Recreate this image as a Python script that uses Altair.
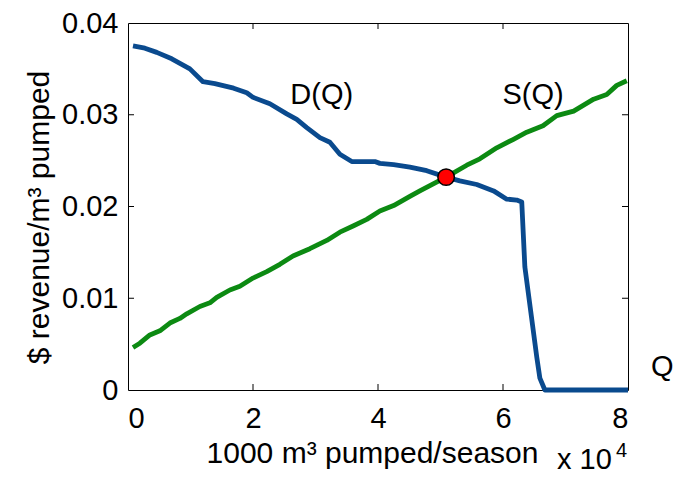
import altair as alt
import pandas as pd

# Demand curve D(Q)
D_Q = [0.08, 0.27, 0.46, 0.70, 0.99, 1.20, 1.39, 1.69, 1.90, 2.00, 2.27, 2.54, 2.70,
       2.86, 3.07, 3.23, 3.39, 3.58, 3.95, 4.03, 4.25, 4.51, 4.78, 5.09, 5.31, 5.58,
       5.85, 6.06, 6.22, 6.30, 6.35, 6.54, 6.59, 6.67, 8.00]
D_P = [0.0375, 0.03725, 0.0368, 0.0361, 0.0350, 0.0336, 0.0334, 0.0329, 0.0324, 0.0319,
       0.0312, 0.0301, 0.0295, 0.0286, 0.0275, 0.0270, 0.0257, 0.0249, 0.0249, 0.0247,
       0.02457, 0.0243, 0.0239, 0.0232, 0.0228, 0.0224, 0.0217, 0.0208, 0.0207, 0.0205,
       0.0134, 0.0036, 0.0013, 0.0, 0.0]

# Supply curve S(Q)
S_Q = [0.08, 0.19, 0.35, 0.51, 0.67, 0.83, 0.94, 1.15, 1.31, 1.42, 1.63, 1.79, 2.00,
       2.22, 2.43, 2.64, 2.91, 3.18, 3.39, 3.61, 3.82, 4.03, 4.25, 4.51, 4.67, 5.09,
       5.42, 5.63, 5.90, 6.16, 6.38, 6.64, 6.86, 7.13, 7.45, 7.66, 7.82, 7.98]
S_P = [0.00464, 0.0051, 0.0060, 0.00645, 0.0073, 0.0078, 0.0083, 0.0091, 0.0095, 0.0101,
       0.0109, 0.0113, 0.0122, 0.0129, 0.0137, 0.0146, 0.0154, 0.0163, 0.0172, 0.0179,
       0.0186, 0.0195, 0.0201, 0.0211, 0.0217, 0.0232, 0.0245, 0.0252, 0.0264, 0.0273,
       0.0281, 0.0288, 0.0299, 0.0304, 0.0317, 0.0322, 0.0332, 0.0337]

# Equilibrium point
EQ_Q = [5.09]
EQ_P = [0.0232]

# Annotations
LABEL_TEXT = ["D(Q)", "S(Q)", "Q"]
LABEL_Q = [3.10, 6.48, 8.55]
LABEL_P = [0.0322, 0.0322, 0.0025]

X_TICKS = [0, 2, 4, 6, 8]
Y_TICKS = [0, 0.01, 0.02, 0.03, 0.04]
X_INNER = [2, 4, 6]
Y_INNER = [0.01, 0.02, 0.03]

FONT = "Liberation Sans, Arial, Helvetica, sans-serif"
W, H = 500, 367
BLUE = "#0a4a8e"
GREEN = "#0c8a12"

xs = alt.Scale(domain=[0, 8], nice=False, zero=False)
ys = alt.Scale(domain=[0, 0.04], nice=False, zero=False)

x_axis = alt.Axis(values=X_TICKS, format="d", title="1000 m³ pumped/season",
                  labelPadding=14, titleX=244, titleY=72, titleAlign="center",
                  titleBaseline="alphabetic", titleFontSize=30)
y_axis = alt.Axis(values=Y_TICKS, format=".2~f", title="$ revenue/m³ pumped",
                  labelPadding=10, titleAngle=270, titleX=-80, titleY=194,
                  titleAlign="center", titleBaseline="alphabetic", titleFontSize=30)

d_df = pd.DataFrame({"Q": D_Q, "P": D_P})
s_df = pd.DataFrame({"Q": S_Q, "P": S_P})
eq_df = pd.DataFrame({"Q": EQ_Q, "P": EQ_P})
lab_df = pd.DataFrame({"Q": LABEL_Q, "P": LABEL_P, "t": LABEL_TEXT})
xt_df = pd.DataFrame({"Q": X_INNER})
yt_df = pd.DataFrame({"P": Y_INNER})

demand = alt.Chart(d_df).mark_line(color=BLUE, strokeWidth=4.8, strokeJoin="round").encode(
    x=alt.X("Q:Q", scale=xs, axis=x_axis),
    y=alt.Y("P:Q", scale=ys, axis=y_axis),
    order=alt.Order("Q:Q"),
)
supply = alt.Chart(s_df).mark_line(color=GREEN, strokeWidth=4.8, strokeJoin="round").encode(
    x=alt.X("Q:Q", scale=xs),
    y=alt.Y("P:Q", scale=ys),
)
eq = alt.Chart(eq_df).mark_point(filled=True, color="#ff0000", stroke="black",
                                  strokeWidth=1.5, size=270, opacity=1).encode(
    x=alt.X("Q:Q", scale=xs),
    y=alt.Y("P:Q", scale=ys),
)
labels = alt.Chart(lab_df).mark_text(font=FONT, fontSize=29, color="black",
                                     align="center", baseline="middle").encode(
    x=alt.X("Q:Q", scale=xs),
    y=alt.Y("P:Q", scale=ys),
    text="t:N",
)
xt_bottom = alt.Chart(xt_df).mark_rule(color="black", strokeWidth=1).encode(
    x=alt.X("Q:Q", scale=xs), y=alt.value(H), y2=alt.value(H - 6))
xt_top = alt.Chart(xt_df).mark_rule(color="black", strokeWidth=1).encode(
    x=alt.X("Q:Q", scale=xs), y=alt.value(0), y2=alt.value(6))
yt_left = alt.Chart(yt_df).mark_rule(color="black", strokeWidth=1).encode(
    y=alt.Y("P:Q", scale=ys), x=alt.value(0), x2=alt.value(6))
yt_right = alt.Chart(yt_df).mark_rule(color="black", strokeWidth=1).encode(
    y=alt.Y("P:Q", scale=ys), x=alt.value(W), x2=alt.value(W - 6))

mult = alt.Chart(pd.DataFrame({"t": ["x 10"]})).mark_text(
    font=FONT, fontSize=29, color="black", align="left", baseline="alphabetic"
).encode(x=alt.value(429), y=alt.value(446), text="t:N")
mult_exp = alt.Chart(pd.DataFrame({"t": ["4"]})).mark_text(
    font=FONT, fontSize=20, color="black", align="left", baseline="alphabetic"
).encode(x=alt.value(488), y=alt.value(434), text="t:N")

chart = alt.layer(
    xt_bottom, xt_top, yt_left, yt_right, demand, supply, eq, labels, mult, mult_exp
).properties(
    width=W, height=H,
    autosize=alt.AutoSizeParams(type="none"),
    padding={"left": 120, "top": 15, "right": 45, "bottom": 85},
    background="white",
).configure_view(
    stroke="black", strokeWidth=1
).configure_axis(
    grid=False, domain=False, ticks=False,
    labelFont=FONT, labelFontSize=29, labelColor="black",
    titleFont=FONT, titleFontSize=29, titleFontWeight="normal", titleColor="black",
)

chart.save("out.html", embed_options={"renderer": "svg", "actions": False})
